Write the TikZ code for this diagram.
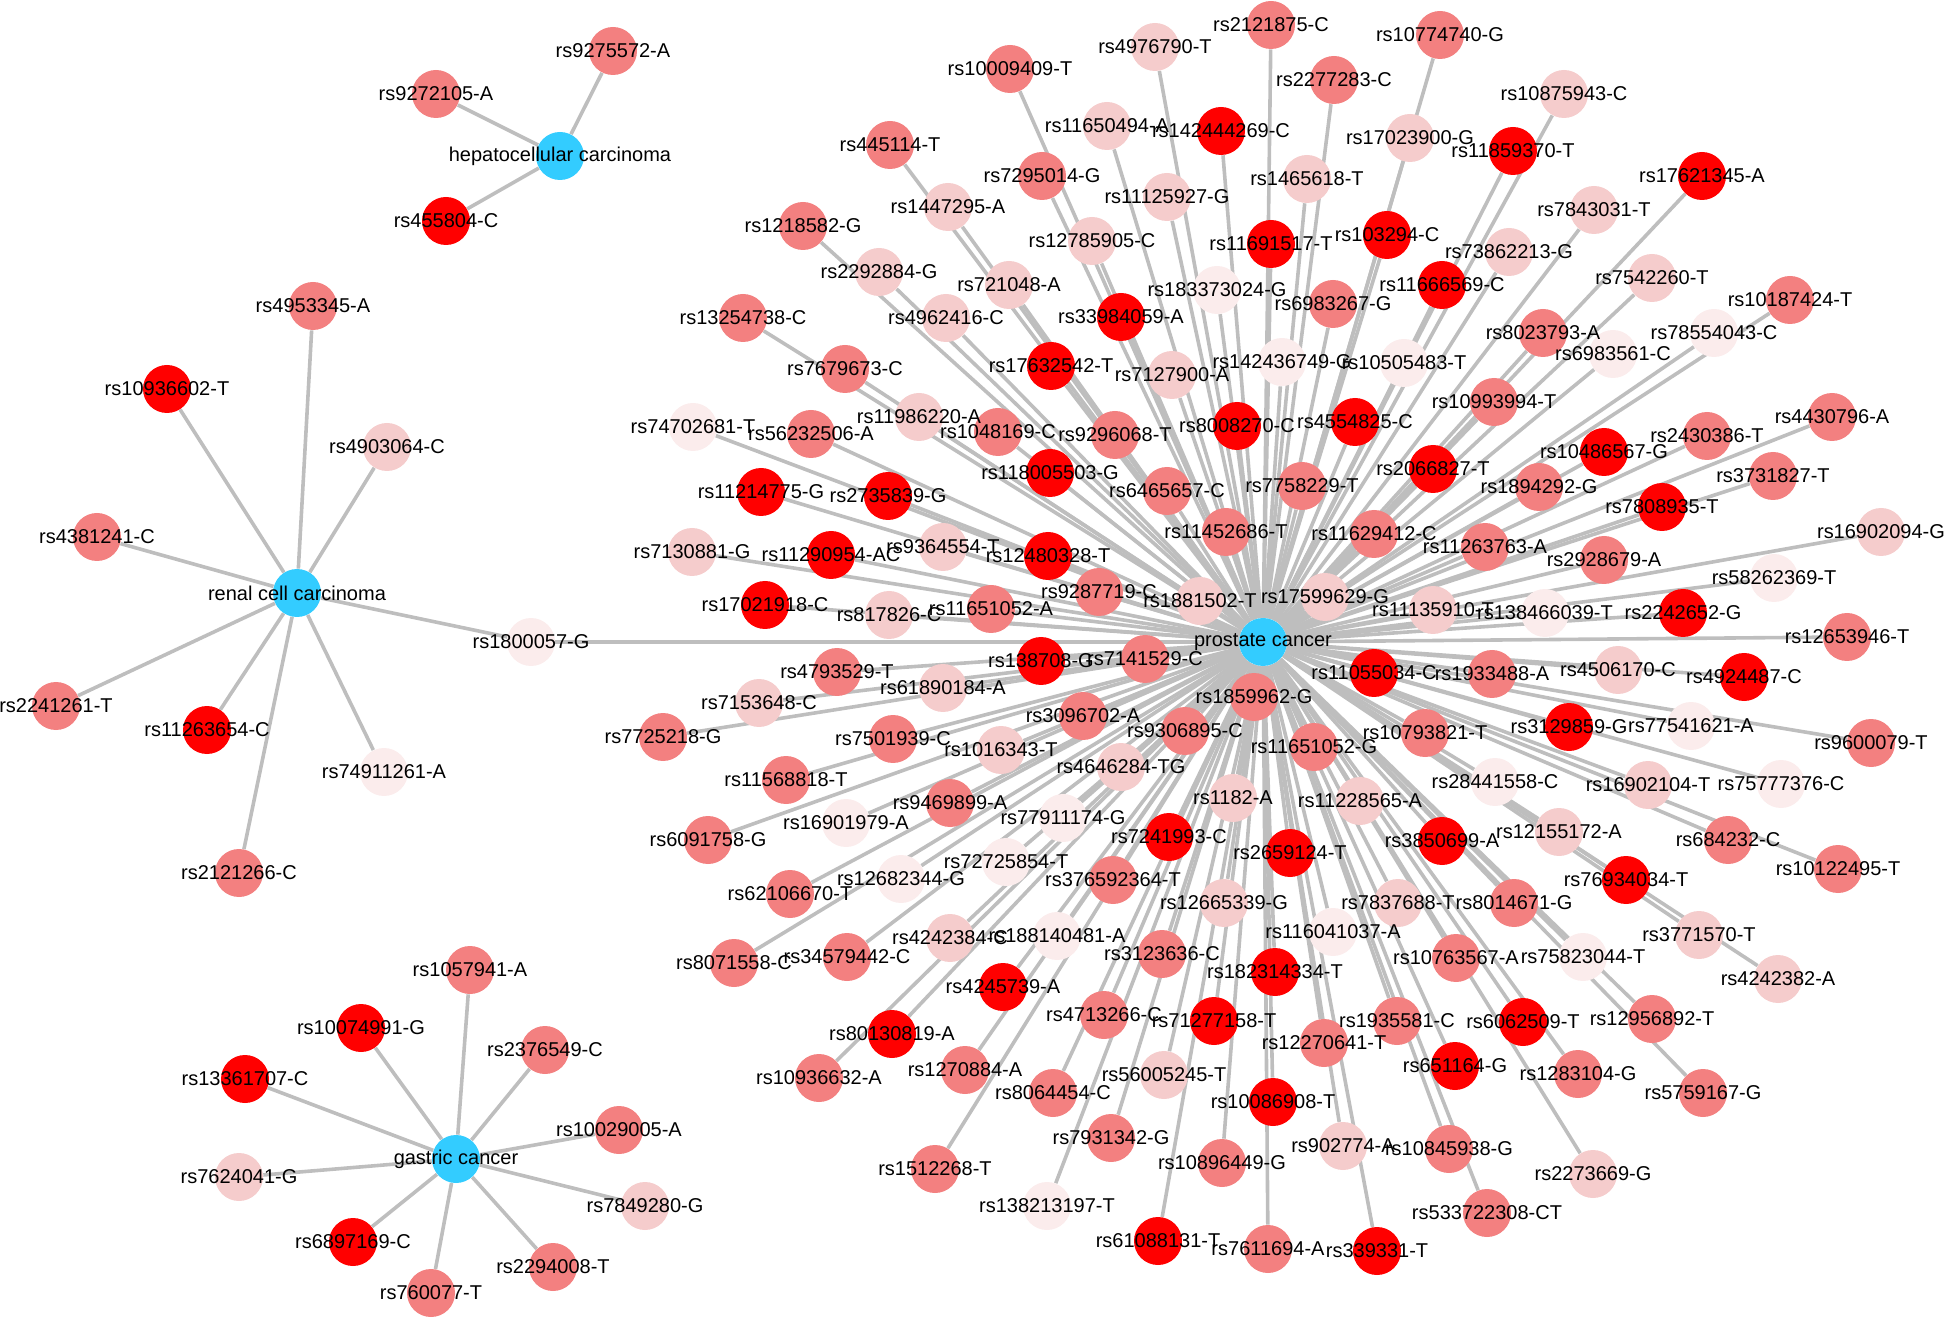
\documentclass[tikz,border=0pt]{standalone}
\usepackage{fontspec}
\setmainfont{Liberation Sans}
\usetikzlibrary{backgrounds}

\definecolor{snpR}{RGB}{255,0,0}
\definecolor{snpS}{RGB}{243,128,128}
\definecolor{snpP}{RGB}{245,204,204}
\definecolor{snpW}{RGB}{251,236,236}
\definecolor{hubC}{RGB}{51,204,255}
\definecolor{edgeC}{RGB}{190,190,190}

\def\hcclist{rs9275572-A/613/51/snpS, rs9272105-A/436/94/snpS, rs455804-C/446/221/snpR}
\def\rcclist{rs4953345-A/313/306/snpS, rs10936602-T/167/389/snpR, rs4903064-C/387/447/snpP, rs4381241-C/97/537/snpS, rs1800057-G/531/642/snpW, rs2241261-T/56/706/snpS, rs11263654-C/207/730/snpR, rs74911261-A/384/772/snpW, rs2121266-C/239/873/snpS}
\def\gclist{rs1057941-A/470/970/snpS, rs10074991-G/361/1028/snpR, rs2376549-C/545/1050/snpS, rs13361707-C/245/1079/snpR, rs10029005-A/619/1130/snpS, rs7624041-G/239/1177/snpP, rs7849280-G/645/1206/snpP, rs6897169-C/353/1242/snpR, rs2294008-T/553/1267/snpS, rs760077-T/431/1293/snpS}
\def\pclist{rs10009409-T/1010/69/snpS, rs445114-T/890/145/snpS, rs7295014-G/1042/176/snpS, rs1447295-A/948/207/snpP, rs1218582-G/803/226/snpS, rs12785905-C/1092/241/snpP, rs2292884-G/879/272/snpP, rs721048-A/1009/285/snpP, rs13254738-C/743/318/snpS, rs4962416-C/946/318/snpP, rs17632542-T/1051/366/snpR, rs7679673-C/845/369/snpS, rs11986220-A/919/417/snpP, rs74702681-T/693/427/snpW, rs56232506-A/811/434/snpS, rs1048169-C/998/432/snpS, rs2121875-C/1271/25/snpS, rs4976790-T/1155/47/snpP, rs10774740-G/1440/35/snpS, rs2277283-C/1334/80/snpS, rs11650494-A/1107/126/snpP, rs142444269-C/1221/131/snpR, rs17023900-G/1410/138/snpP, rs11859370-T/1513/151/snpR, rs1465618-T/1307/179/snpP, rs11125927-G/1167/197/snpP, rs11691517-T/1271/244/snpR, rs103294-C/1387/235/snpR, rs73862213-G/1509/252/snpP, rs11666569-C/1442/285/snpR, rs183373024-G/1217/290/snpW, rs6983267-G/1333/304/snpS, rs33984059-A/1121/317/snpR, rs142436749-G/1282/362/snpW, rs10505483-T/1404/363/snpW, rs7127900-A/1172/375/snpP, rs10993994-T/1494/402/snpS, rs9296068-T/1115/435/snpS, rs8008270-C/1237/426/snpR, rs4554825-C/1355/422/snpR, rs10875943-C/1564/94/snpP, rs17621345-A/1702/176/snpR, rs7843031-T/1594/210/snpP, rs7542260-T/1652/278/snpP, rs10187424-T/1790/300/snpS, rs8023793-A/1543/333/snpS, rs78554043-C/1714/333/snpW, rs6983561-C/1613/354/snpW, rs4430796-A/1832/417/snpS, rs2430386-T/1707/436/snpS, rs10486567-G/1604/452/snpR, rs118005503-G/1050/473/snpR, rs11214775-G/761/492/snpR, rs2735839-G/888/496/snpR, rs7130881-G/692/552/snpP, rs11290954-AC/831/555/snpR, rs9364554-T/943/547/snpP, rs12480328-T/1048/556/snpR, rs17021918-C/765/605/snpR, rs817826-C/889/615/snpP, rs11651052-A/991/609/snpS, rs9287719-C/1099/592/snpS, rs138708-G/1041/661/snpR, rs4793529-T/837/672/snpS, rs61890184-A/943/688/snpP, rs7153648-C/759/703/snpP, rs7725218-G/663/737/snpS, rs3096702-A/1083/716/snpS, rs7501939-C/893/739/snpS, rs1016343-T/1001/750/snpP, rs11568818-T/786/780/snpS, rs9469899-A/950/803/snpS, rs16901979-A/846/823/snpW, rs77911174-G/1063/818/snpW, rs6091758-G/708/840/snpS, rs72725854-T/1006/862/snpW, rs12682344-G/901/879/snpW, rs62106670-T/790/894/snpS, rs6465657-C/1167/491/snpS, rs7758229-T/1302/486/snpS, rs2066827-T/1433/469/snpR, rs11452686-T/1226/532/snpS, rs11629412-C/1374/534/snpS, rs11263763-A/1485/547/snpS, rs1881502-T/1200/601/snpP, rs17599629-G/1325/597/snpP, rs11135910-T/1433/610/snpP, rs138466039-T/1545/613/snpW, rs7141529-C/1145/659/snpS, rs11055034-C/1374/673/snpR, rs1933488-A/1492/674/snpS, rs1859962-G/1254/697/snpS, rs9306895-C/1185/731/snpS, rs11651052-G/1314/747/snpS, rs10793821-T/1425/733/snpS, rs4646284-TG/1121/767/snpP, rs28441558-C/1495/782/snpW, rs1182-A/1233/798/snpP, rs11228565-A/1360/801/snpP, rs7241993-C/1169/837/snpR, rs2659124-T/1290/853/snpR, rs3850699-A/1442/841/snpR, rs376592364-T/1113/880/snpS, rs1894292-G/1539/487/snpS, rs3731827-T/1773/476/snpS, rs7808935-T/1662/507/snpR, rs16902094-G/1881/532/snpP, rs2928679-A/1604/560/snpS, rs58262369-T/1774/578/snpW, rs2242652-G/1683/613/snpR, rs12653946-T/1847/637/snpS, rs4506170-C/1618/670/snpP, rs4924487-C/1744/677/snpR, rs3129859-G/1569/727/snpR, rs77541621-A/1691/726/snpW, rs9600079-T/1871/743/snpS, rs16902104-T/1648/785/snpP, rs75777376-C/1781/784/snpW, rs12155172-A/1559/832/snpP, rs684232-C/1728/840/snpS, rs10122495-T/1838/869/snpS, rs76934034-T/1626/880/snpR, rs8071558-C/734/963/snpS, rs34579442-C/847/957/snpS, rs4242384-C/950/938/snpP, rs188140481-A/1057/936/snpW, rs4245739-A/1003/987/snpR, rs80130819-A/892/1034/snpR, rs1270884-A/965/1070/snpS, rs10936632-A/819/1078/snpS, rs8064454-C/1053/1093/snpS, rs1512268-T/935/1169/snpS, rs138213197-T/1047/1206/snpW, rs12665339-G/1224/903/snpP, rs7837688-T/1398/903/snpP, rs8014671-G/1514/903/snpS, rs116041037-A/1333/932/snpW, rs3123636-C/1162/954/snpS, rs182314334-T/1275/972/snpR, rs10763567-A/1456/958/snpS, rs4713266-C/1104/1015/snpS, rs71277158-T/1214/1021/snpR, rs1935581-C/1397/1021/snpS, rs6062509-T/1523/1022/snpR, rs12270641-T/1324/1043/snpS, rs651164-G/1455/1066/snpR, rs56005245-T/1164/1075/snpP, rs10086908-T/1273/1102/snpR, rs7931342-G/1111/1138/snpS, rs902774-A/1343/1146/snpP, rs10845938-G/1449/1149/snpS, rs10896449-G/1222/1163/snpS, rs533722308-CT/1487/1213/snpS, rs61088131-T/1158/1241/snpR, rs7611694-A/1268/1249/snpS, rs339331-T/1377/1251/snpR, rs3771570-T/1699/935/snpP, rs75823044-T/1583/957/snpW, rs4242382-A/1778/979/snpP, rs12956892-T/1652/1019/snpS, rs1283104-G/1578/1074/snpS, rs5759167-G/1703/1093/snpS, rs2273669-G/1593/1174/snpP}

\begin{document}
\begin{tikzpicture}[x=0.5pt, y=-0.5pt,
	snp/.style={circle, inner sep=0pt, minimum size=24pt},
	hub/.style={circle, inner sep=0pt, minimum size=24pt, fill=hubC},
	edge/.style={draw=edgeC, line width=1.8pt},
	lbl/.style={inner sep=0pt, font=\fontsize{10}{12}\selectfont}]
	\useasboundingbox (0,0) rectangle (1944,1320);

	\node[hub] (hcc) at (560,156) {};
	\node[hub] (rcc) at (297,593) {};
	\node[hub] (gc) at (456,1159) {};
	\node[hub] (pc) at (1263,642) {};

	\foreach \nm/\x/\y/\c in \hcclist \node[snp, fill=\c] (\nm) at (\x,\y) {};
	\foreach \nm/\x/\y/\c in \rcclist \node[snp, fill=\c] (\nm) at (\x,\y) {};
	\foreach \nm/\x/\y/\c in \gclist \node[snp, fill=\c] (\nm) at (\x,\y) {};
	\foreach \nm/\x/\y/\c in \pclist \node[snp, fill=\c] (\nm) at (\x,\y) {};

	\begin{scope}[on background layer]
		\foreach \nm/\x/\y/\c in \hcclist \draw[edge] (hcc) -- (\nm);
		\foreach \nm/\x/\y/\c in \rcclist \draw[edge] (rcc) -- (\nm);
		\foreach \nm/\x/\y/\c in \gclist \draw[edge] (gc) -- (\nm);
		\foreach \nm/\x/\y/\c in \pclist \draw[edge] (pc) -- (\nm);
		\draw[edge] (pc) -- (rs1800057-G);
	\end{scope}

	\foreach \nm/\x/\y/\c in \hcclist \node[lbl] (\nm-t) at (\nm) {\nm};
	\foreach \nm/\x/\y/\c in \rcclist \node[lbl] (\nm-t) at (\nm) {\nm};
	\foreach \nm/\x/\y/\c in \gclist \node[lbl] (\nm-t) at (\nm) {\nm};
	\foreach \nm/\x/\y/\c in \pclist \node[lbl] (\nm-t) at (\nm) {\nm};
	\node[lbl] (hcc-t) at (hcc) {hepatocellular carcinoma};
	\node[lbl] (rcc-t) at (rcc) {renal cell carcinoma};
	\node[lbl] (gc-t) at (gc) {gastric cancer};
	\node[lbl] (pc-t) at (pc) {prostate cancer};
\end{tikzpicture}
\end{document}
